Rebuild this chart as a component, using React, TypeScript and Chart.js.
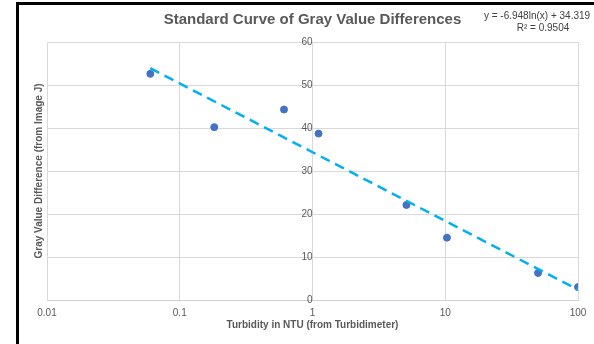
import React, { useEffect, useRef } from "react";
import { Chart, registerables } from "chart.js";

Chart.register(...registerables);

// Measured points (Turbidity NTU vs gray value difference)
const turbidity = [0.06, 0.182, 0.61, 1.11, 5.1, 10.3, 50, 100];
const grayDiff = [52.6, 40.2, 44.3, 38.7, 22.1, 14.5, 6.3, 3.0];

// Logarithmic trendline end points
const trendX = [0.06, 100];
const trendY = [53.9, 2.4];

const xTickValues = [0.01, 0.1, 1, 10, 100];
const yTickMin = 0;
const yTickMax = 60;
const yTickStep = 10;

const titleText = "Standard Curve of Gray Value Differences";
const xTitle = "Turbidity in NTU (from Turbidimeter)";
const yTitle = "Gray Value Difference (from Image J)";
const equationLine1 = "y = -6.948ln(x) + 34.319";
const equationLine2 = "R² = 0.9504";

const FONT = '"Liberation Sans", Arial, sans-serif';

export default function App() {
  const canvasRef = useRef<HTMLCanvasElement | null>(null);

  useEffect(() => {
    const canvas = canvasRef.current;
    if (!canvas) return;

    const extraText = {
      id: "extraText",
      afterDraw(chart: any) {
        const ctx = chart.ctx;
        const area = chart.chartArea;
        ctx.save();
        ctx.fillStyle = "#595959";
        ctx.font = `bold 10px ${FONT}`;
        ctx.textAlign = "center";
        ctx.textBaseline = "middle";
        ctx.translate(39, (area.top + area.bottom) / 2);
        ctx.rotate(-Math.PI / 2);
        ctx.fillText(yTitle, 0, 0);
        ctx.restore();

        ctx.save();
        ctx.fillStyle = "#404040";
        ctx.font = `10px ${FONT}`;
        ctx.textAlign = "center";
        ctx.textBaseline = "middle";
        ctx.fillText(equationLine1, 537, 16);
        ctx.fillText(equationLine2, 543, 28);
        ctx.restore();
      },
    };

    const chart = new Chart(canvas, {
      type: "scatter",
      data: {
        datasets: [
          {
            label: "Trend",
            data: trendX.map((x, i) => ({ x, y: trendY[i] })),
            showLine: true,
            borderColor: "#00b0f0",
            borderWidth: 2.5,
            borderDash: [10, 6],
            pointRadius: 0,
            order: 0,
          },
          {
            label: "Data",
            data: turbidity.map((x, i) => ({ x, y: grayDiff[i] })),
            backgroundColor: "#4472c4",
            borderColor: "#4472c4",
            pointRadius: 3.5,
            order: 1,
          },
        ],
      },
      options: {
        responsive: false,
        animation: false,
        devicePixelRatio: 1,
        layout: {
          autoPadding: false,
          padding: { left: 47, right: 16, top: 0, bottom: 13 },
        },
        plugins: {
          legend: { display: false },
          tooltip: { enabled: false },
          title: {
            display: true,
            text: titleText,
            color: "#595959",
            font: { family: FONT, size: 15, weight: "bold" },
            padding: { top: 11, bottom: 13 },
          },
        },
        scales: {
          x: {
            type: "logarithmic",
            position: "bottom",
            min: 0.01,
            max: 100,
            afterBuildTicks: (scale: any) => {
              scale.ticks = xTickValues.map((v) => ({ value: v }));
            },
            ticks: {
              autoSkip: false,
              maxRotation: 0,
              padding: 7,
              color: "#595959",
              font: { family: FONT, size: 10 },
              callback: (v: any) => String(v),
            },
            grid: { color: "#d9d9d9", drawTicks: false },
            border: { display: true, color: "#d0d0d0" },
            title: {
              display: true,
              text: xTitle,
              color: "#595959",
              font: { family: FONT, size: 10, weight: "bold" },
              padding: { top: -7, bottom: 0 },
            },
          },
          y: {
            position: { x: 1 } as any,
            min: yTickMin,
            max: yTickMax,
            ticks: {
              stepSize: yTickStep,
              padding: 8,
              color: "#595959",
              font: { family: FONT, size: 10 },
            },
            grid: { color: "#d9d9d9", drawTicks: false },
            border: { display: false },
          },
        },
      },
      plugins: [extraText],
    });

    return () => chart.destroy();
  }, []);

  return (
    <div
      style={{
        position: "fixed",
        left: 0,
        top: 0,
        width: 594,
        height: 344,
        background: "#fff",
        overflow: "hidden",
      }}
    >
      <div
        style={{
          position: "absolute",
          left: 16,
          top: 2,
          width: 600,
          height: 360,
          borderLeft: "3px solid #000",
          borderTop: "3px solid #000",
        }}
      />
      <canvas
        ref={canvasRef}
        width={594}
        height={344}
        style={{ position: "absolute", left: 0, top: 0, display: "block" }}
      />
    </div>
  );
}
